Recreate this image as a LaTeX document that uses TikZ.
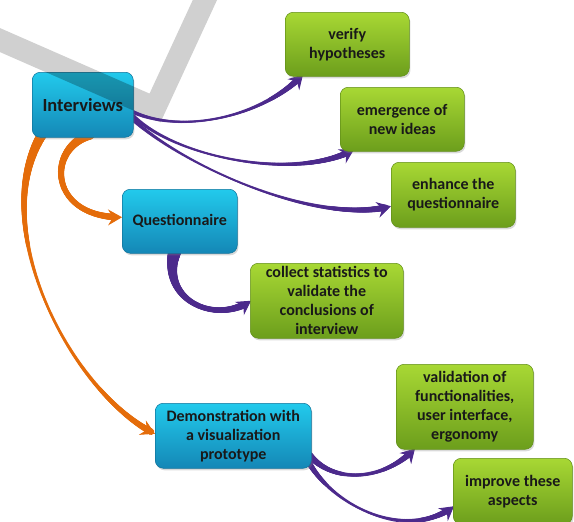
\documentclass[tikz,border=0pt]{standalone}
\usepackage{fontspec}
\setmainfont{Carlito}
\usetikzlibrary{decorations.markings,shadows,arrows.meta}
\definecolor{arrpurple}{RGB}{76,42,140}
\definecolor{arrorange}{RGB}{228,108,10}
\definecolor{bluetop}{RGB}{34,202,236}
\definecolor{bluebot}{RGB}{20,135,182}
\definecolor{greentop}{RGB}{168,216,52}
\definecolor{greenbot}{RGB}{108,158,28}
\definecolor{checkgray}{RGB}{208,208,208}
\pgfdeclarelayer{bg}
\pgfdeclarelayer{arrows}
\pgfsetlayers{bg,arrows,main}
\newcommand\mkswdot[4]{%
 \pgfmathsetmacro\swD{\pgfkeysvalueof{/pgf/decoration/mark info/distance from start}}%
 \pgfmathsetmacro\swL{\pgfdecoratedpathlength}%
 \pgfmathsetmacro\swT{\swD/\swL}%
 \pgfmathsetmacro\swR{#3+(#2-#3)*(1-\swT)^3+(#4-#3)*(\swT)^3}%
 \ifdim\swD pt<\dimexpr\swL pt-9pt\relax \fill[#1] (0,0) circle[radius=\swR pt];\fi}
\tikzset{
 box/.style={rounded corners=8pt, inner sep=2pt, align=center, anchor=north west,
   font=\fontsize{16}{19}\selectfont\bfseries, text=black!90,
   drop shadow={opacity=0.3, shadow xshift=1.2pt, shadow yshift=-2pt}},
 bluebox/.style={box, top color=bluetop, bottom color=bluebot, draw=bluebot!85!black, line width=0.5pt},
 greenbox/.style={box, top color=greentop, bottom color=greenbot, draw=greenbot!90!black, line width=0.5pt},
 swoosh/.style n args={4}{draw=#1, line width=0.9pt,
   -{Stealth[length=14pt,width=16pt,inset=5pt]},
   postaction={decorate, decoration={markings,
     mark=between positions 0 and 1 step 0.6pt with {\mkswdot{#1}{#2}{#3}{#4}}}}},
}
\begin{document}
\begin{tikzpicture}[x=1pt,y=-1pt]
\useasboundingbox (0,0) rectangle (574,522);
\begin{pgfonlayer}{bg}
\draw[checkgray, line width=22pt, line join=miter] (-10,35.7) -- (155,108) -- (210,-11);
\end{pgfonlayer}
% nodes
\node[bluebox, minimum width=101pt, minimum height=65pt, font=\fontsize{18.5}{22}\selectfont\bfseries]
  (interviews) at (32,72) {Interviews};
\begin{scope}
\clip[rounded corners=8pt] (interviews.north west) rectangle (interviews.south east);
\draw[black, opacity=0.25, line width=22pt, line join=miter] (-10,35.7) -- (155,108) -- (210,-11);
\end{scope}
\node[greenbox, minimum width=124pt, minimum height=64pt] (verify) at (285,12) {verify\\hypotheses};
\node[greenbox, minimum width=124pt, minimum height=64pt] (emergence) at (340,87) {emergence of\\new ideas};
\node[greenbox, minimum width=124pt, minimum height=65pt] (enhance) at (391,162) {enhance the\\questionnaire};
\node[bluebox, minimum width=115pt, minimum height=64pt] (questionnaire) at (122,189) {Questionnaire};
\node[greenbox, minimum width=153pt, minimum height=75pt] (collect) at (250,263) {collect statistics to\\validate the\\conclusions of\\interview};
\node[bluebox, minimum width=156pt, minimum height=65pt] (demo) at (155,403) {Demonstration with\\a visualization\\prototype};
\node[greenbox, minimum width=137pt, minimum height=85pt] (validation) at (396,364) {validation of\\functionalities,\\user interface,\\ergonomy};
\node[greenbox, minimum width=119pt, minimum height=66pt] (improve) at (453,458) {improve these\\aspects};
% connectors
\begin{pgfonlayer}{arrows}
\draw[swoosh={arrpurple}{2}{0.7}{3.5}] ([shift={(0,7.5)}]interviews.east) .. controls (185,135) and (265,115) .. ([shift={(18,-2)}]verify.south west);
\draw[swoosh={arrpurple}{2}{0.7}{3.5}] ([shift={(0,11.5)}]interviews.east) .. controls (180,160) and (300,180) .. ([shift={(14,-2)}]emergence.south west);
\draw[swoosh={arrpurple}{2}{0.6}{3.5}] ([shift={(0,15.5)}]interviews.east) .. controls (190,170) and (320,225) .. ([shift={(0,11.5)}]enhance.west);
\draw[swoosh={arrorange}{5}{2.4}{3.5}] ([shift={(7.5,-3)}]interviews.south) .. controls (45,150) and (50,218) .. ([shift={(0,-4)}]questionnaire.west);
\draw[swoosh={arrorange}{5}{0.5}{3.5}] ([shift={(10,-3)}]interviews.south west) .. controls (-15,230) and (75,395) .. ([shift={(0,-2)}]demo.west);
\draw[swoosh={arrpurple}{6.5}{2}{4}] ([shift={(-5,-2)}]questionnaire.south) .. controls (160,300) and (215,325) .. ([shift={(1,0)}]collect.west);
\draw[swoosh={arrpurple}{3.5}{1.2}{3.5}] ([shift={(-2,19.5)}]demo.east) .. controls (335,485) and (385,480) .. ([shift={(19,-1)}]validation.south west);
\draw[swoosh={arrpurple}{3}{0.6}{3.5}] ([shift={(-4,24.5)}]demo.east) .. controls (335,510) and (410,540) .. ([shift={(1,15)}]improve.west);
\end{pgfonlayer}
\end{tikzpicture}
\end{document}
